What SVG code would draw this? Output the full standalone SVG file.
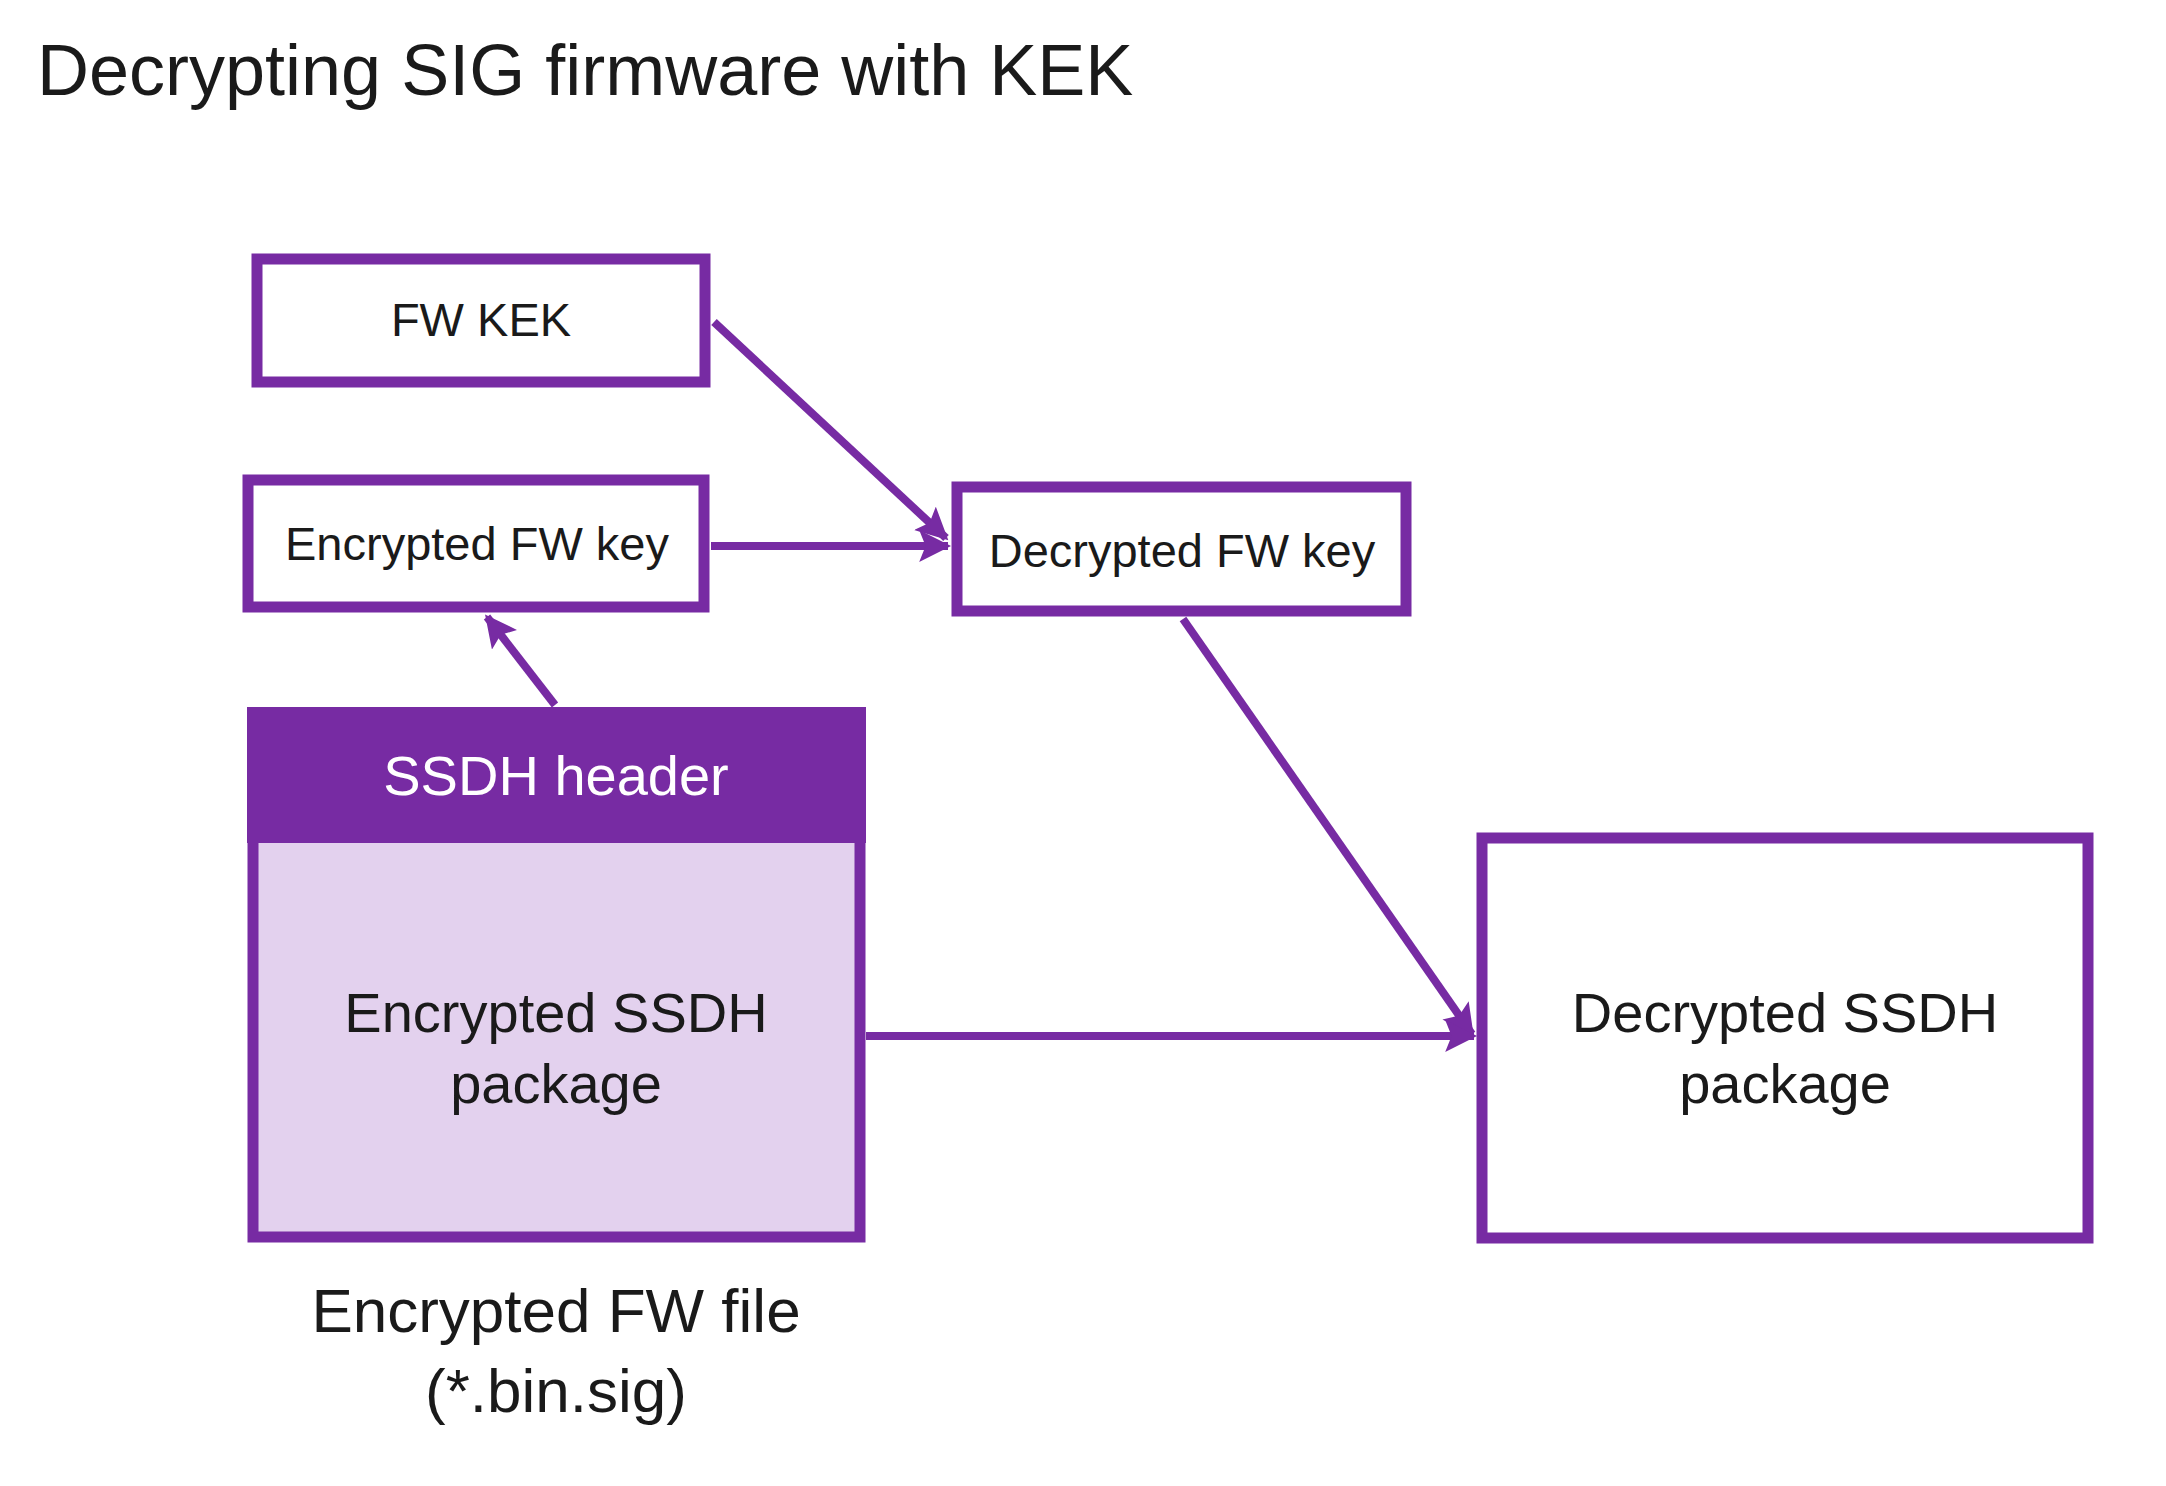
<svg xmlns="http://www.w3.org/2000/svg" width="2166" height="1486" viewBox="0 0 2166 1486">
<style>
text{font-family:"Liberation Sans",Arial,sans-serif;fill:#1a1a1a;text-anchor:middle}
.box{fill:#fff;stroke:#772BA3;stroke-width:11}
.c{fill:none;stroke:#772BA3;stroke-width:8}
.s{font-size:47px}.m{font-size:56px}
</style>
<defs><marker id="a" viewBox="0 0 10 10" refX="9" refY="5" markerWidth="4" markerHeight="4" orient="auto" markerUnits="strokeWidth"><path d="M0,0L10,5L0,10L2,5z" fill="#772BA3"/></marker></defs>
<rect width="2166" height="1486" fill="#fff"/>
<text x="37" y="95" style="font-size:72px;text-anchor:start">Decrypting SIG firmware with KEK</text>
<g id="fwkek"><rect class="box" x="257" y="259" width="448" height="123"/><text class="s" x="481" y="336">FW KEK</text></g>
<g id="encfwkey"><rect class="box" x="248" y="480" width="456" height="127"/><text class="s" x="477" y="560">Encrypted FW key</text></g>
<g id="decfwkey"><rect class="box" x="957" y="487" width="449" height="124"/><text class="s" x="1182" y="567">Decrypted FW key</text></g>
<g id="encpkg"><rect class="box" x="253" y="713" width="607" height="524" style="fill:#E3D1EE"/><rect x="247" y="707" width="619" height="136" fill="#772BA3"/><text class="m" x="556" y="795" style="fill:#fff">SSDH header</text><text class="m" x="556" y="1032">Encrypted SSDH</text><text class="m" x="556" y="1103">package</text></g>
<g id="decpkg"><rect class="box" x="1482" y="838" width="606" height="400"/><text class="m" x="1785" y="1032">Decrypted SSDH</text><text class="m" x="1785" y="1103">package</text></g>
<g id="label"><text x="556" y="1332" style="font-size:62px">Encrypted FW file</text><text x="556" y="1412" style="font-size:62px">(*.bin.sig)</text></g>
<g id="connectors">
<path class="c" d="M714,322L946,538" marker-end="url(#a)"/>
<path class="c" d="M711,546L948,546" marker-end="url(#a)"/>
<path class="c" d="M555,705L487,617" marker-end="url(#a)"/>
<path class="c" d="M1183,619L1472,1034" marker-end="url(#a)"/>
<path class="c" d="M866,1036L1474,1036" marker-end="url(#a)"/>
</g>
</svg>
